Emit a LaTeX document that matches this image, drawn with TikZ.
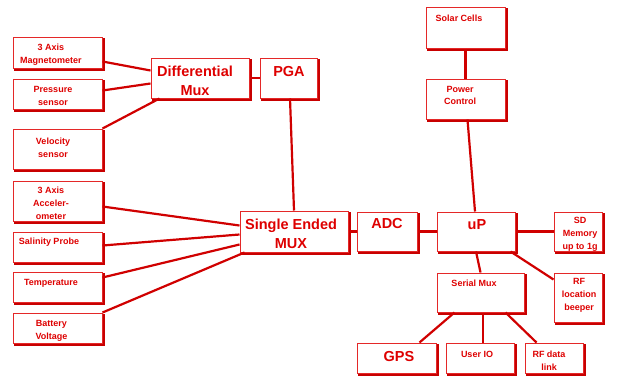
\documentclass[tikz,border=0pt]{standalone}
\usepackage{fontspec}
\setmainfont{Liberation Sans}

\definecolor{boxred}{RGB}{228,40,40}
\definecolor{shadered}{RGB}{200,0,0}
\definecolor{wirered}{RGB}{208,0,0}
\definecolor{textred}{RGB}{222,0,0}

\tikzset{
  box/.style={draw=boxred, line width=1pt, fill=white, inner sep=0pt,
    preaction={draw=shadered, line width=2.4pt, transform canvas={xshift=2pt, yshift=-2pt}}},
  small/.style={font=\fontsize{9}{12.8}\selectfont\bfseries, text=textred, align=center, inner sep=0pt},
  big/.style={font=\fontsize{14.5}{19}\selectfont\bfseries, text=textred, align=center, inner sep=0pt},
  wire/.style={draw=wirered, line width=2.2pt}
}

\begin{document}
\begin{tikzpicture}[x=1pt, y=-1pt]

\useasboundingbox (0,0) rectangle (618,376);

% Sensoren links
\node[box, minimum width=89pt, minimum height=31pt] (mag) at (57.5,52.5) {};
\node[box, minimum width=89pt, minimum height=30pt] (pres) at (57.5,94) {};
\node[box, minimum width=89pt, minimum height=40pt] (velo) at (57.5,149) {};
\node[box, minimum width=89pt, minimum height=40pt] (acc) at (57.5,201) {};
\node[box, minimum width=89pt, minimum height=30pt] (sal) at (57.5,247) {};
\node[box, minimum width=89pt, minimum height=30pt] (temp) at (57.5,287) {};
\node[box, minimum width=89pt, minimum height=30pt] (batt) at (57.5,328) {};

% Multiplexer und Wandler
\node[box, minimum width=98pt, minimum height=40pt] (diff) at (200,78) {};
\node[box, minimum width=57pt, minimum height=40pt] (pga) at (288.5,78) {};
\node[box, minimum width=108pt, minimum height=41pt] (semux) at (294,231.5) {};
\node[box, minimum width=60pt, minimum height=39pt] (adc) at (387,231.5) {};
\node[box, minimum width=78pt, minimum height=39pt] (up) at (476,231.5) {};

% Versorgung
\node[box, minimum width=79pt, minimum height=41pt] (solar) at (465.5,27.5) {};
\node[box, minimum width=79pt, minimum height=40pt] (power) at (465.5,99) {};

% Peripherie rechts
\node[box, minimum width=48pt, minimum height=39pt] (sd) at (578,231.5) {};
\node[box, minimum width=87pt, minimum height=39pt] (serial) at (480.5,292.5) {};
\node[box, minimum width=48pt, minimum height=49pt] (rfb) at (578,297.5) {};
\node[box, minimum width=79pt, minimum height=30pt] (gps) at (396.5,358) {};
\node[box, minimum width=68pt, minimum height=30pt] (user) at (480,358) {};
\node[box, minimum width=58pt, minimum height=30pt] (rfd) at (554,358) {};

% Beschriftungen
\node[small] (mag-t) at (51,55) {3 Axis\\Magnetometer};
\node[small] (pres-t) at (53,96) {Pressure\\sensor};
\node[small] (velo-t) at (53,147.5) {Velocity\\sensor};
\node[small] (acc-t) at (51,203.5) {3 Axis\\Acceler-\\ometer};
\node[small] (sal-t) at (49,242) {Salinity Probe};
\node[small] (temp-t) at (51,283) {Temperature};
\node[small] (batt-t) at (51.5,330.5) {Battery\\Voltage};
\node[big] (diff-t) at (195,80.5) {Differential\\Mux};
\node[big] (pga-t) at (289,72) {PGA};
\node[big] (semux-t) at (291,233.5) {Single Ended\\MUX};
\node[big] (adc-t) at (387,224) {ADC};
\node[big] (up-t) at (477,225) {uP};
\node[small] (solar-t) at (459,18) {Solar Cells};
\node[small] (power-t) at (460,95.5) {Power\\Control};
\node[small] (sd-t) at (580,234.5) {SD\\Memory\\up to 1g};
\node[small] (serial-t) at (474,283) {Serial Mux};
\node[small] (rfb-t) at (579,295.5) {RF\\location\\beeper};
\node[big] (gps-t) at (399,356) {GPS};
\node[small] (user-t) at (477,354) {User IO};
\node[small] (rfd-t) at (549,360.5) {RF data\\link};

% Verbindungen
\draw[wire] ([yshift=-25pt]mag.north east) -- ([yshift=-13pt]diff.north west);
\draw[wire] ([yshift=-12pt]pres.north east) -- ([yshift=-26pt]diff.north west);
\draw[wire] (velo.north east) -- ([xshift=9pt]diff.south west);
\draw[wire] (diff.east) -- (pga.west);
\draw[wire] ([xshift=1.5pt]pga.south) -- (semux.north);

\draw[wire] ([yshift=-26pt]acc.north east) -- ([yshift=-15pt]semux.north west);
\draw[wire] ([yshift=-14pt]sal.north east) -- ([yshift=-24pt]semux.north west);
\draw[wire] ([yshift=-6pt]temp.north east) -- ([yshift=-34pt]semux.north west);
\draw[wire] (batt.north east) -- ([xshift=5pt]semux.south west);

\draw[wire] (semux.east) -- (adc.west);
\draw[wire] (adc.east) -- (up.west);
\draw[wire] (up.east) -- (sd.west);
\draw[wire] (up.south) -- (serial.north);
\draw[wire] ([xshift=-5pt]up.south east) -- ([yshift=-7pt]rfb.north west);

\draw[wire] (solar.south) -- (power.north);
\draw[wire] ([xshift=2pt]power.south) -- ([xshift=-1pt]up.north);

\draw[wire] ([xshift=18pt]serial.south west) -- ([xshift=-17pt]gps.north east);
\draw[wire] ([xshift=2.5pt]serial.south) -- ([xshift=3pt]user.north);
\draw[wire] ([xshift=-19pt]serial.south east) -- ([xshift=12pt]rfd.north west);

\end{tikzpicture}
\end{document}
